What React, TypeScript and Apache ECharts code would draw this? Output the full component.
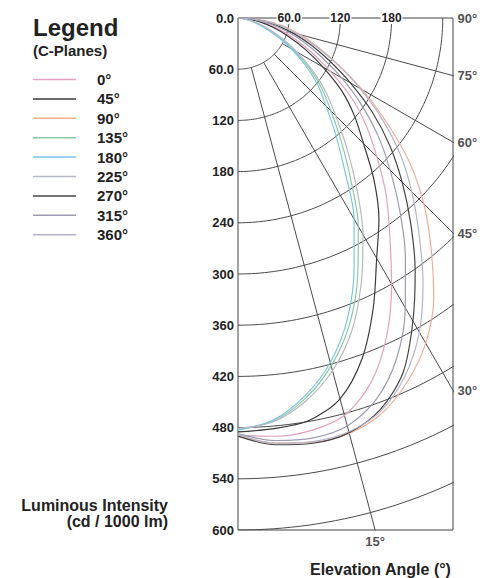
import React, { useEffect, useRef } from "react";
import * as echarts from "echarts";

// Gamma angles (deg from nadir) at which intensities were read
const gammaAngles = [0, 5, 10, 15, 20, 25, 30, 35, 40, 45, 50, 55, 60, 65, 70, 75, 80, 85, 90];

// Luminous intensity (cd / 1000 lm) per C-plane
const cdC0 = [489, 492, 491, 482, 455, 412, 360, 310, 270, 230, 196, 162, 125, 95, 70, 48, 29, 12, 0];
const cdC45 = [485, 483, 479, 462, 425, 375, 325, 288, 248, 208, 178, 148, 115, 87, 63, 43, 26, 11, 0];
const cdC90 = [490, 500, 505, 504, 493, 470, 440, 400, 352, 308, 262, 212, 168, 130, 100, 76, 54, 30, 0];
const cdC135 = [482, 474, 453, 422, 382, 332, 282, 230, 188, 154, 128, 101, 76, 54, 36, 22, 12, 5, 0];
const cdC180 = [483, 473, 450, 418, 375, 322, 272, 218, 178, 146, 122, 96, 72, 50, 33, 20, 11, 4, 0];
const cdC225 = [481, 475, 456, 428, 390, 342, 293, 242, 198, 162, 134, 106, 80, 57, 39, 24, 13, 5, 0];
const cdC270 = [490, 502, 506, 503, 488, 458, 410, 362, 315, 272, 232, 192, 152, 118, 90, 65, 43, 21, 0];
const cdC315 = [487, 497, 500, 495, 475, 440, 392, 342, 295, 252, 214, 176, 140, 108, 82, 58, 37, 17, 0];
const cdC360 = [488, 500, 504, 502, 490, 463, 425, 378, 330, 288, 248, 206, 165, 128, 97, 72, 49, 24, 0];

const planeNames = ["0°", "45°", "90°", "135°", "180°", "225°", "270°", "315°", "360°"];
const planeValues = [cdC0, cdC45, cdC90, cdC135, cdC180, cdC225, cdC270, cdC315, cdC360];
const planeColors = ["#e6a1c0", "#3a3a3a", "#f0ae98", "#8ec9a0", "#7cc6e6", "#b5b8c6", "#444444", "#9c9cb0", "#b3b3c9"];

// Intensity rings and elevation spokes
const ringValues = [60, 120, 180, 240, 300, 360, 420, 480, 540, 600];
const spokeAngles = [15, 30, 45, 60, 75];
const angleLabelValues = [15, 30, 45, 60, 75, 90];

const FONT = "'Liberation Sans', Arial, Helvetica, sans-serif";
const GRID_COLOR = "#4a4a4a";
const TEXT_COLOR = "#222";
const X_MAX = 252; // horizontal extent of the frame in cd units
const Y_MAX = 600;
const RAD = Math.PI / 180;

function buildOption() {
  const arcSeries = ringValues.map((r) => ({
    type: "line",
    xAxisIndex: 0,
    yAxisIndex: 0,
    symbol: "none",
    silent: true,
    clip: true,
    z: 1,
    lineStyle: { color: GRID_COLOR, width: 1 },
    data: Array.from({ length: 91 }, (_, g) => [r * Math.sin(g * RAD), r * Math.cos(g * RAD)]),
  }));

  const spokeSeries = spokeAngles.map((a) => ({
    type: "line",
    xAxisIndex: 0,
    yAxisIndex: 0,
    symbol: "none",
    silent: true,
    clip: true,
    z: 1,
    lineStyle: { color: GRID_COLOR, width: 1 },
    data: [
      [ringValues[0] * Math.sin(a * RAD), ringValues[0] * Math.cos(a * RAD)],
      [900 * Math.sin(a * RAD), 900 * Math.cos(a * RAD)],
    ],
  }));

  const labelPoints = angleLabelValues.map((a) => {
    const t = Math.tan(a * RAD);
    const bottomX = Y_MAX * t;
    if (bottomX <= X_MAX) {
      return { value: [bottomX, Y_MAX], label: { position: "bottom", distance: 4, formatter: a + "°" } };
    }
    return { value: [X_MAX, a >= 90 ? 0 : X_MAX / t], label: { position: "right", distance: 4, formatter: a + "°" } };
  });

  const labelSeries = {
    type: "scatter",
    xAxisIndex: 0,
    yAxisIndex: 0,
    symbolSize: 1,
    clip: false,
    silent: true,
    itemStyle: { color: "rgba(0,0,0,0)" },
    label: { show: true, fontSize: 13, fontWeight: "bold", color: TEXT_COLOR, fontFamily: FONT },
    data: labelPoints,
  };

  const curveSeries = planeNames.map((name, i) => ({
    name,
    type: "line",
    coordinateSystem: "polar",
    polarIndex: 0,
    symbol: "none",
    smooth: 0.3,
    z: 3,
    lineStyle: { color: planeColors[i], width: 1.2 },
    itemStyle: { color: planeColors[i] },
    data: gammaAngles.map((g, k) => [planeValues[i][k], g]),
  }));

  return {
    animation: false,
    grid: {
      left: 238,
      top: 18,
      width: 215,
      height: 512,
      show: true,
      borderColor: "#444",
      borderWidth: 1,
      backgroundColor: "transparent",
    },
    xAxis: {
      type: "value",
      position: "top",
      min: 0,
      max: X_MAX,
      interval: 60,
      z: 10,
      axisLine: { show: false },
      axisTick: { show: false },
      splitLine: { show: false },
      axisLabel: {
        margin: 0,
        verticalAlign: "middle",
        backgroundColor: "#fff",
        padding: [0, 1],
        color: TEXT_COLOR,
        fontSize: 12,
        fontWeight: "bold",
        fontFamily: FONT,
        showMinLabel: true,
        showMaxLabel: true,
        formatter: (v: number) => (v === 60 ? "60.0" : v === 120 || v === 180 ? String(v) : ""),
      },
    },
    yAxis: {
      type: "value",
      inverse: true,
      min: 0,
      max: Y_MAX,
      interval: 60,
      axisLine: { show: false },
      axisTick: { show: false },
      splitLine: { show: false },
      axisLabel: {
        margin: 4,
        color: TEXT_COLOR,
        fontSize: 13,
        fontWeight: "bold",
        fontFamily: FONT,
        formatter: (v: number) => (v === 0 ? "0.0" : v === 60 ? "60.0" : String(v)),
      },
    },
    polar: { center: [238, 18], radius: 512 },
    angleAxis: {
      type: "value",
      min: 0,
      max: 360,
      startAngle: 270,
      clockwise: false,
      axisLine: { show: false },
      axisTick: { show: false },
      axisLabel: { show: false },
      splitLine: { show: false },
    },
    radiusAxis: {
      type: "value",
      min: 0,
      max: Y_MAX,
      axisLine: { show: false },
      axisTick: { show: false },
      axisLabel: { show: false },
      splitLine: { show: false },
    },
    legend: {
      data: planeNames,
      orient: "vertical",
      left: 33,
      top: 72,
      padding: 0,
      icon: "rect",
      itemWidth: 43,
      itemHeight: 1.5,
      itemGap: 4.4,
      selectedMode: false,
      textStyle: {
        fontSize: 15,
        fontWeight: "bold",
        color: TEXT_COLOR,
        fontFamily: FONT,
        lineHeight: 15,
        padding: [0, 0, 0, 16],
      },
    },
    graphic: [
      { type: "text", x: 33, y: 27, style: { text: "Legend", fontSize: 24, fontWeight: "bold", fill: TEXT_COLOR, fontFamily: FONT, verticalAlign: "middle" } },
      { type: "text", x: 33, y: 50, style: { text: "(C-Planes)", fontSize: 15, fontWeight: "bold", fill: TEXT_COLOR, fontFamily: FONT, verticalAlign: "middle" } },
      { type: "text", x: 168, y: 505, style: { text: "Luminous Intensity", fontSize: 16, fontWeight: "bold", fill: TEXT_COLOR, fontFamily: FONT, align: "right", verticalAlign: "middle" } },
      { type: "text", x: 168, y: 521, style: { text: "(cd / 1000 lm)", fontSize: 16, fontWeight: "bold", fill: TEXT_COLOR, fontFamily: FONT, align: "right", verticalAlign: "middle" } },
      { type: "text", x: 310, y: 569, style: { text: "Elevation Angle (°)", fontSize: 16, fontWeight: "bold", fill: TEXT_COLOR, fontFamily: FONT, verticalAlign: "middle" } },
    ],
    series: [...arcSeries, ...spokeSeries, labelSeries, ...curveSeries],
  };
}

export default function App() {
  const ref = useRef<HTMLDivElement>(null);
  useEffect(() => {
    if (!ref.current) return;
    const chart = echarts.init(ref.current, null, { renderer: "svg" });
    chart.setOption(buildOption() as any);
    return () => chart.dispose();
  }, []);
  return (
    <div
      ref={ref}
      style={{ position: "fixed", left: 0, top: 0, width: 480, height: 578, background: "#fff" }}
    />
  );
}
